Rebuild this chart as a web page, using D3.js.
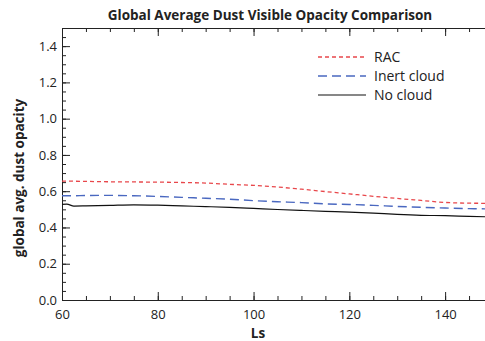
<!DOCTYPE html>
<html>
<head>
<meta charset="utf-8">
<script src="https://cdn.jsdelivr.net/npm/d3@7"></script>
<style>
  body { margin: 0; background: #fff; }
  svg { display: block; font-family: "Open Sans", sans-serif; }
  .axis path, .axis line { stroke: #222; }
  .axis text { fill: #222; font-size: 13px; font-family: "Open Sans", sans-serif; }
</style>
</head>
<body>
<div id="container"></div>
<script>
// values
var ls       = [60, 61, 62.5, 65, 70, 75, 80, 85, 90, 95, 100, 105, 110, 115, 120, 125, 130, 135, 140, 145, 150];
var rac      = [0.656, 0.656, 0.655, 0.654, 0.652, 0.651, 0.650, 0.648, 0.645, 0.638, 0.632, 0.623, 0.611, 0.598, 0.585, 0.572, 0.560, 0.549, 0.538, 0.534, 0.533];
var inert    = [0.575, 0.575, 0.575, 0.576, 0.577, 0.575, 0.571, 0.566, 0.561, 0.556, 0.548, 0.542, 0.537, 0.530, 0.527, 0.522, 0.516, 0.511, 0.507, 0.504, 0.502];
var noCloud  = [0.527, 0.529, 0.518, 0.519, 0.522, 0.525, 0.523, 0.519, 0.515, 0.511, 0.505, 0.499, 0.494, 0.489, 0.485, 0.479, 0.472, 0.467, 0.465, 0.461, 0.458];
var seriesNames = ["RAC", "Inert cloud", "No cloud"];
var xTicks = [60, 80, 100, 120, 140];
var yTicks = [0, 0.2, 0.4, 0.6, 0.8, 1.0, 1.2, 1.4];

var width = 485,
    height = 341;
var mLeft = 62, mRight = 493, mTop = 28, mBottom = 300;

var svg = d3.select("#container").append("svg")
    .attr("width", width)
    .attr("height", height);

var x = d3.scaleLinear().domain([60, 150]).range([mLeft, mRight]);
var y = d3.scaleLinear().domain([0, 1.5]).range([mBottom, mTop]);

svg.append("clipPath").attr("id", "plot-clip")
  .append("rect")
    .attr("x", mLeft).attr("y", mTop)
    .attr("width", mRight - mLeft).attr("height", mBottom - mTop);

// minor ticks first (inward)
var xMinor = d3.range(60, 151, 5);
var yMinor = d3.range(0, 1.501, 0.05);

function minor(g, axis) {
  g.attr("class", "axis").call(axis);
  g.select(".domain").remove();
  g.selectAll("text").remove();
}
svg.append("g").attr("transform", "translate(0," + mBottom + ")")
  .call(minor, d3.axisBottom(x).tickValues(xMinor).tickSize(-4));
svg.append("g").attr("transform", "translate(0," + mTop + ")")
  .call(minor, d3.axisTop(x).tickValues(xMinor).tickSize(-4));
svg.append("g").attr("transform", "translate(" + mLeft + ",0)")
  .call(minor, d3.axisLeft(y).tickValues(yMinor).tickSize(-4));
svg.append("g").attr("transform", "translate(" + mRight + ",0)")
  .call(minor, d3.axisRight(y).tickValues(yMinor).tickSize(-4));

// major axes
svg.append("g").attr("class", "axis")
  .attr("transform", "translate(0," + mBottom + ")")
  .call(d3.axisBottom(x).tickValues(xTicks).tickSize(-8).tickPadding(10).tickSizeOuter(0));
svg.append("g").attr("class", "axis")
  .attr("transform", "translate(0," + mTop + ")")
  .call(d3.axisTop(x).tickValues(xTicks).tickSize(-8).tickFormat("").tickSizeOuter(0));
svg.append("g").attr("class", "axis")
  .attr("transform", "translate(" + mLeft + ",0)")
  .call(d3.axisLeft(y).tickValues(yTicks).tickSize(-8).tickPadding(5).tickSizeOuter(0)
    .tickFormat(d3.format(".1f")));
svg.append("g").attr("class", "axis")
  .attr("transform", "translate(" + mRight + ",0)")
  .call(d3.axisRight(y).tickValues(yTicks).tickSize(-8).tickFormat("").tickSizeOuter(0));

// lines
var series = [
  { name: seriesNames[0], values: rac,     color: "#e8474b", dash: "4,3", w: 1.3 },
  { name: seriesNames[1], values: inert,   color: "#4a68c0", dash: "9,5", w: 1.4 },
  { name: seriesNames[2], values: noCloud, color: "#111",    dash: null,  w: 1.2 }
];

var line = d3.line()
    .x(function (d, i) { return x(ls[i]) })
    .y(function (d) { return y(d) })
    .curve(d3.curveMonotoneX);

svg.append("g").attr("clip-path", "url(#plot-clip)")
  .selectAll("path")
  .data(series)
  .enter().append("path")
    .attr("fill", "none")
    .attr("stroke", function (d) { return d.color })
    .attr("stroke-width", function (d) { return d.w })
    .attr("stroke-dasharray", function (d) { return d.dash })
    .attr("d", function (d) { return line(d.values) });

// legend
var legend = svg.append("g").attr("transform", "translate(318,57)");
var item = legend.selectAll("g")
  .data(series)
  .enter().append("g")
    .attr("transform", function (d, i) { return "translate(0," + (i * 19) + ")" });
item.append("line")
    .attr("x1", 0).attr("x2", 48).attr("y1", 0).attr("y2", 0)
    .attr("stroke", function (d) { return d.color })
    .attr("stroke-width", function (d) { return d.w })
    .attr("stroke-dasharray", function (d) { return d.dash });
item.append("text")
    .attr("x", 56).attr("y", 5)
    .style("font-size", "14px")
    .style("fill", "#222")
    .text(function (d) { return d.name });

// titles
svg.append("text")
    .attr("x", 270).attr("y", 20)
    .attr("text-anchor", "middle")
    .style("font-size", "13.5px").style("font-weight", "bold").style("fill", "#222")
    .text("Global Average Dust Visible Opacity Comparison");
svg.append("text")
    .attr("x", 258).attr("y", 338)
    .attr("text-anchor", "middle")
    .style("font-size", "13.5px").style("font-weight", "bold").style("fill", "#222")
    .text("Ls");
svg.append("text")
    .attr("transform", "translate(24,178) rotate(-90)")
    .attr("text-anchor", "middle")
    .style("font-size", "13.5px").style("font-weight", "bold").style("fill", "#222")
    .text("global avg. dust opacity");
</script>
</body>
</html>
